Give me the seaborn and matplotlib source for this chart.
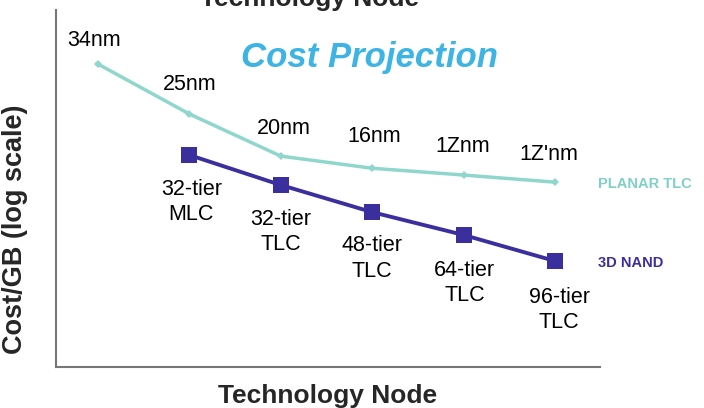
import matplotlib
matplotlib.use("Agg")
import matplotlib.pyplot as plt
import seaborn as sns
import pandas as pd

planar_x = [0, 1, 2, 3, 4, 5]
planar_cost = [84.9, 70.9, 59.1, 55.7, 53.8, 51.8]
planar_labels = ["34nm", "25nm", "20nm", "16nm", "1Znm", "1Z'nm"]

nand_x = [1, 2, 3, 4, 5]
nand_cost = [59.4, 51.0, 43.4, 37.0, 29.7]
nand_labels = ["32-tier\nMLC", "32-tier\nTLC", "48-tier\nTLC", "64-tier\nTLC", "96-tier\nTLC"]

sns.set_style("white")
fam = ["Liberation Sans", "DejaVu Sans"]
plt.rcParams["font.family"] = fam

fig = plt.figure(figsize=(7.04, 4.08), dpi=100)
ax = fig.add_axes([0.0795, 0.1005, 0.852 - 0.0795, 0.975 - 0.1005])

teal = "#8fd6cc"
purple = "#3b2f9e"

df_p = pd.DataFrame({"x": planar_x, "y": planar_cost})
df_n = pd.DataFrame({"x": nand_x, "y": nand_cost})
sns.lineplot(data=df_p, x="x", y="y", ax=ax, color=teal, linewidth=2.5,
             marker="D", markersize=4, markeredgewidth=0)
sns.lineplot(data=df_n, x="x", y="y", ax=ax, color=purple, linewidth=2.8,
             marker="s", markersize=11, markeredgewidth=0)

ax.set_xlim(-0.46, 5.49)
ax.set_ylim(0, 100)
ax.set_xticks([])
ax.set_yticks([])
for s in ["top", "right"]:
    ax.spines[s].set_visible(False)
for s in ["left", "bottom"]:
    ax.spines[s].set_color("#777777")
    ax.spines[s].set_linewidth(1.5)

ax.set_xlabel("Technology Node", fontsize=19, fontweight="bold", labelpad=12)
ax.set_ylabel("Cost/GB (log scale)", fontsize=19.5, fontweight="bold")
ax.yaxis.set_label_coords(-0.052, 0.385)

planar_off = [(-4, 24), (0, 30), (3, 28), (2, 32), (-1, 29), (-6, 28)]
for x, y, lab, (dx, dy) in zip(planar_x, planar_cost, planar_labels, planar_off):
    ax.annotate(lab, (x, y), xytext=(dx, dy), textcoords="offset pixels",
                ha="center", va="center", fontsize=15.5, color="black")

nand_off = [(2, -47), (0, -47), (0, -46), (1, -48), (4, -49)]
for x, y, lab, (dx, dy) in zip(nand_x, nand_cost, nand_labels, nand_off):
    ax.annotate(lab, (x, y), xytext=(dx, dy), textcoords="offset pixels",
                ha="center", va="center", fontsize=15.5, color="black",
                linespacing=1.3)

ax.annotate("PLANAR TLC", (planar_x[-1], planar_cost[-1]), xytext=(43, -2),
            textcoords="offset pixels", ha="left", va="center",
            fontsize=10.5, fontweight="bold", color="#7fd0c6", annotation_clip=False)
ax.annotate("3D NAND", (nand_x[-1], nand_cost[-1]), xytext=(43, -2),
            textcoords="offset pixels", ha="left", va="center",
            fontsize=10.5, fontweight="bold", color=purple, annotation_clip=False)

fig.text(370 / 704, 1 - 58 / 408, "Cost Projection", ha="center", va="center",
         fontsize=25, fontweight="bold", style="italic", color="#3db4e3")
fig.text(310 / 704, 1 + 1 / 408, "Technology Node", ha="center", va="center",
         fontsize=19, fontweight="bold")

fig.savefig("out.png", dpi=100)
